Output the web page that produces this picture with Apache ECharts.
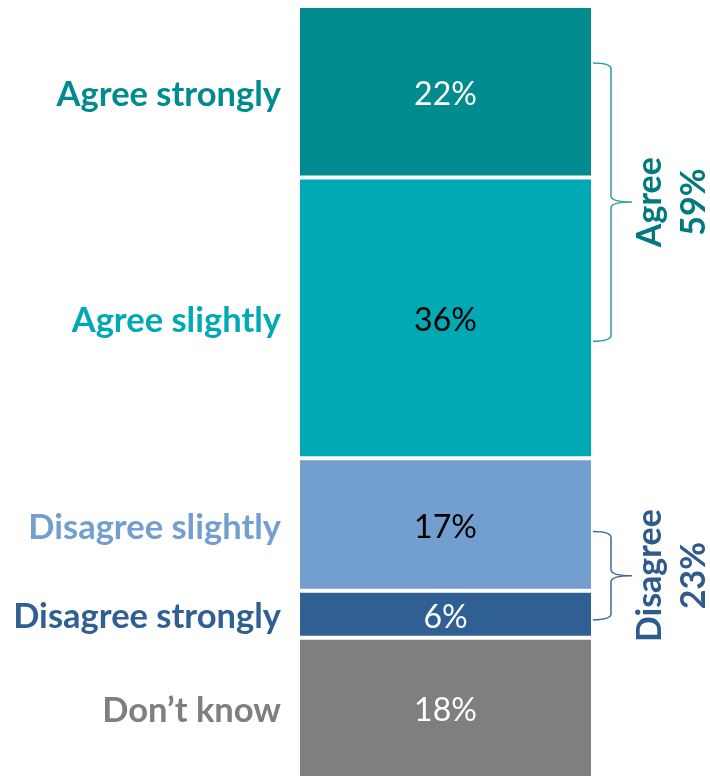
<!DOCTYPE html>
<html>
<head>
<meta charset="utf-8">
<script src="https://cdn.jsdelivr.net/npm/echarts@6/dist/echarts.min.js"></script>
<style>
  html, body { margin: 0; padding: 0; background: #fff; }
  #chart { width: 710px; height: 780px; }
</style>
</head>
<body>
<div id="chart"></div>
<script>
// Response categories, top to bottom of the stacked column
const categories = ['Agree strongly', 'Agree slightly', 'Disagree slightly', 'Disagree strongly', 'Don\u2019t know'];
const values = [22, 36, 17, 6, 18];
const segmentColors = ['#008B8F', '#00AAB4', '#729FCF', '#2F5F93', '#7F7F7F'];
const valueLabelColors = ['#ffffff', '#000000', '#000000', '#ffffff', '#ffffff'];
const nameColors = ['#008B8F', '#00AAB4', '#729FCF', '#2F5F93', '#7F7F7F'];

// Net groupings shown with braces on the right
const groupNames = ['Agree', 'Disagree'];
const groupTotals = ['59%', '23%'];
const braceRanges = [[7.3, 43], [67.4, 78.7]];
const groupTextColors = ['#007A7E', '#2E5A8C'];
const braceColors = ['#2A9DA2', '#3D6A9E'];

const total = values.reduce((a, b) => a + b, 0);

// Cumulative midpoints for the category names
const mids = [];
let acc = 0;
values.forEach(v => { mids.push(acc + v / 2); acc += v; });

const barSeries = values.map((v, i) => ({
  type: 'bar',
  name: categories[i],
  stack: 'all',
  data: [v],
  barWidth: '100%',
  itemStyle: { color: segmentColors[i], borderColor: '#ffffff', borderWidth: 2 },
  label: {
    show: true,
    position: 'inside',
    offset: [0, 3],
    formatter: '{c}%',
    color: valueLabelColors[i],
    fontFamily: 'Lato',
    fontSize: 32
  },
  silent: true
}));

const nameSeries = {
  type: 'custom',
  data: mids.map(m => [0, m]),
  encode: { x: 0, y: 1 },
  silent: true,
  z: 5,
  renderItem(params, api) {
    const p = api.coord([0, api.value(1)]);
    const w = api.size([1, 0])[0];
    return {
      type: 'text',
      x: p[0] - w / 2 - 17,
      y: p[1] + 3,
      style: {
        text: categories[params.dataIndex],
        align: 'right',
        verticalAlign: 'middle',
        fill: nameColors[params.dataIndex],
        font: 'bold 34.5px Lato'
      }
    };
  }
};

const braceSeries = {
  type: 'custom',
  data: braceRanges.map(r => [0, r[0], r[1]]),
  encode: { x: 0, y: [1, 2] },
  silent: true,
  z: 5,
  renderItem(params, api) {
    const i = params.dataIndex;
    const top = api.coord([0, api.value(1)]);
    const bot = api.coord([0, api.value(2)]);
    const w = api.size([1, 0])[0];
    const x0 = top[0] + w / 2;
    const x1 = x0 + 18;
    const x2 = x0 + 39;
    const y0 = top[1], y1 = bot[1], ym = (y0 + y1) / 2;
    const r = 6;
    const d = [
      'M', x0, y0,
      'Q', x1, y0, x1, y0 + r,
      'L', x1, ym - r,
      'Q', x1, ym, x2, ym,
      'Q', x1, ym, x1, ym + r,
      'L', x1, y1 - r,
      'Q', x1, y1, x0, y1
    ].join(' ');
    return {
      type: 'group',
      children: [
        {
          type: 'path',
          shape: { pathData: d },
          style: { fill: 'none', stroke: braceColors[i], lineWidth: 1.5 }
        },
        {
          type: 'text',
          x: x0 + 79,
          y: ym,
          rotation: Math.PI / 2,
          style: {
            text: groupNames[i] + '\n' + groupTotals[i],
            align: 'center',
            verticalAlign: 'middle',
            lineHeight: 44,
            fill: groupTextColors[i],
            font: 'bold 34px Lato'
          }
        }
      ]
    };
  }
};

const chart = echarts.init(document.getElementById('chart'), null, { renderer: 'canvas' });
chart.setOption({
  animation: false,
  backgroundColor: '#ffffff',
  grid: { left: 298, right: 117, top: 6, bottom: 2, containLabel: false },
  xAxis: { type: 'category', data: ['All'], show: false },
  yAxis: { type: 'value', min: 0, max: total, inverse: true, show: false },
  series: [...barSeries, nameSeries, braceSeries]
});
</script>
</body>
</html>
